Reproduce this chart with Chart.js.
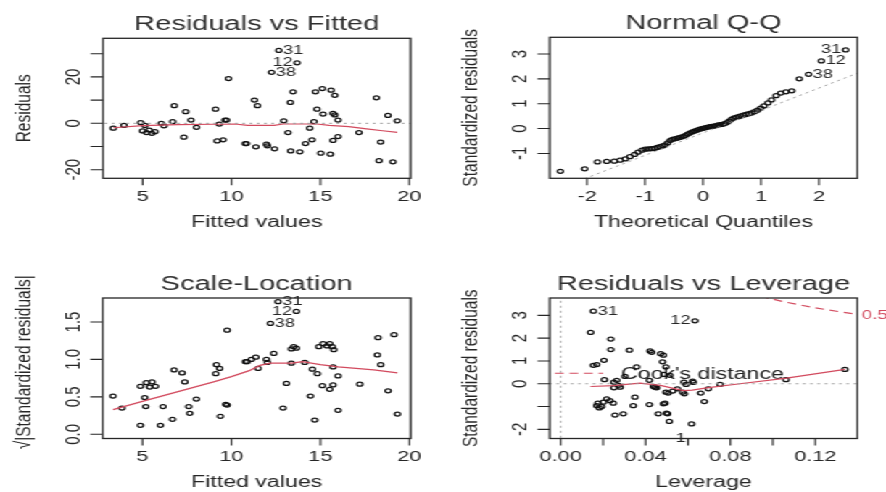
<!DOCTYPE html>
<html>
<head>
<meta charset="utf-8">
<title>lm diagnostics</title>
<script src="https://cdn.jsdelivr.net/npm/chart.js@4.4.1/dist/chart.umd.min.js"></script>
<style>
  html, body { margin: 0; padding: 0; background: #fff; overflow: hidden; }
  /* the four panels are laid out on a 611px-wide stage and widened to 886px */
  #stage { position: absolute; left: 0; top: 0; width: 611px; height: 492px;
           transform: scaleX(1.45008); transform-origin: 0 0; }
  #stage canvas { position: absolute; left: 0; top: 0; width: 611px; height: 492px; }
</style>
</head>
<body>
<div id="stage">
  <canvas id="p1" width="611" height="492"></canvas>
  <canvas id="p2" width="611" height="492"></canvas>
  <canvas id="p3" width="611" height="492"></canvas>
  <canvas id="p4" width="611" height="492"></canvas>
</div>
<script>
// ---- Residuals vs Fitted ----
const fitted = [3.35,3.95,4.89,5.00,5.13,5.22,5.37,5.52,5.69,6.05,6.20,6.69,6.78,7.32,7.42,7.72,8.03,9.10,9.19,9.31,
  9.53,9.63,9.72,9.83,10.77,10.84,11.29,11.37,11.46,11.97,12.02,12.25,12.42,12.66,12.94,13.18,13.31,13.33,13.46,13.69,
  13.84,14.16,14.40,14.53,14.64,14.72,14.81,15.02,15.11,15.15,15.56,15.60,15.71,15.81,15.81,15.71,15.99,15.99,17.17,18.15,
  18.30,18.39,18.80,19.08,19.33];
const residuals = [-2.1,-0.9,0.3,-3.3,-0.9,-4.0,-2.9,-4.3,-3.6,0.0,-1.1,0.7,7.6,-6.0,5.0,1.4,-1.7,6.1,-7.6,-0.3,
  -7.1,1.4,1.4,19.3,-8.7,-8.7,10.0,-10.1,7.6,-9.0,-9.7,22.0,-11.0,31.4,1.1,-4.0,9.0,-11.9,13.6,26.1,
  -12.3,-8.7,-2.1,-7.1,0.7,13.6,6.1,-12.9,15.0,4.0,-13.3,14.3,4.3,3.6,12.1,-7.4,1.4,-5.7,-4.0,11.0,
  -16.1,-8.1,3.4,-16.6,1.1];
const smoothFitX = [3.35,5,7,9,10.2,10.9,12.4,12.9,14.8,15.5,16.6,17.6,18.5,19.33];
const smoothFitY = [-1.9,-1.0,-0.6,-0.4,-0.3,-0.9,-0.9,-0.3,-0.3,-0.9,-1.4,-2.4,-3.2,-3.9];

// ---- Normal Q-Q ----
const theoQ = [-2.46,-2.04,-1.82,-1.66,-1.53,-1.43,-1.34,-1.26,-1.18,-1.12,-1.05,-0.995,-0.94,-0.887,-0.837,-0.788,-0.742,-0.697,
  -0.653,-0.61,-0.569,-0.528,-0.489,-0.45,-0.412,-0.374,-0.337,-0.30,-0.264,-0.228,-0.193,-0.157,-0.122,-0.087,-0.052,-0.017,
  0.017,0.052,0.087,0.122,0.157,0.193,0.228,0.264,0.30,0.337,0.374,0.412,0.45,0.489,0.528,0.569,0.61,0.653,
  0.697,0.742,0.788,0.837,0.887,0.94,0.995,1.05,1.12,1.18,1.26,1.34,1.43,1.53,1.66,1.82,2.04,2.46];
const stdResSorted = [-1.72,-1.62,-1.34,-1.32,-1.31,-1.27,-1.22,-1.13,-1.04,-0.95,-0.87,-0.83,-0.82,-0.81,-0.80,-0.76,-0.73,-0.70,
  -0.66,-0.58,-0.48,-0.43,-0.41,-0.39,-0.36,-0.34,-0.31,-0.27,-0.22,-0.18,-0.14,-0.11,-0.08,-0.05,-0.02,0.00,
  0.02,0.04,0.06,0.08,0.09,0.10,0.12,0.15,0.16,0.17,0.20,0.24,0.30,0.37,0.42,0.45,0.48,0.51,
  0.54,0.57,0.60,0.63,0.68,0.74,0.82,0.91,1.03,1.15,1.32,1.43,1.48,1.52,2.00,2.18,2.72,3.16];
const qqLineX = [-2.7, 2.7];
const qqLineY = [-2.61, 2.26];

// ---- Scale-Location ----
const slFitted = [3.35,3.85,4.89,5.13,5.19,4.89,5.22,5.54,5.41,5.73,6.16,6.01,6.69,6.78,7.23,7.38,7.60,7.66,8.03,9.16,
  9.34,9.12,9.68,9.76,9.38,9.76,10.79,10.88,11.12,11.37,11.50,11.97,12.02,12.38,12.19,12.62,13.65,12.90,13.09,13.37,
  13.37,13.50,13.65,14.12,14.44,14.55,14.68,14.83,14.91,15.15,15.11,15.37,15.52,15.67,15.75,15.71,15.52,15.71,15.99,15.99,
  17.21,18.24,18.20,18.39,18.80,19.14,19.33];
const slRoot = [0.51,0.35,0.12,0.49,0.37,0.64,0.69,0.70,0.63,0.64,0.37,0.12,0.20,0.86,0.82,0.70,0.37,0.28,0.47,0.93,
  0.88,0.81,0.40,0.39,0.24,1.39,0.97,0.97,1.00,1.03,0.88,1.00,0.96,1.08,1.48,1.77,1.64,0.35,0.68,0.95,
  1.14,1.17,1.15,0.96,0.51,0.87,0.19,0.81,1.17,1.21,0.65,1.18,1.21,1.17,1.13,0.90,0.60,0.66,0.78,0.32,
  0.67,1.29,1.06,0.93,0.58,1.33,0.27];
const smoothSlX = [3.35,5,7,9,10,11,11.6,12.2,13.4,14,15,16,18,19.33];
const smoothSlY = [0.33,0.44,0.57,0.70,0.77,0.85,0.92,0.95,0.95,0.97,0.93,0.90,0.86,0.82];

// ---- Residuals vs Leverage ----
const leverage = [0.0141,0.0154,0.0154,0.0170,0.0204,0.0206,0.0236,0.0236,0.0251,0.0264,0.0272,0.0251,0.0280,0.0256,0.0295,
  0.0324,0.0350,0.0358,0.0342,0.0170,0.0182,0.0193,0.0175,0.0201,0.0217,0.0232,0.0248,0.0418,0.0460,0.0421,
  0.0429,0.0418,0.0437,0.0444,0.0452,0.0471,0.0484,0.0480,0.0496,0.0487,0.0496,0.0507,0.0484,0.0492,0.0499,
  0.0504,0.0512,0.0528,0.0550,0.0575,0.0583,0.0581,0.0591,0.0622,0.0625,0.0633,0.0617,0.0660,0.0677,0.0696,
  0.0751,0.1062,0.1340,0.0303,0.0515];
const levStdRes = [2.25,3.18,0.81,0.84,1.03,0.18,1.96,1.50,0.07,0.15,-0.07,-0.18,-0.15,-1.37,-1.32,
  1.47,-0.59,0.74,-0.96,-0.96,-1.06,-1.00,-0.85,-0.81,-0.66,-0.74,-0.85,-0.91,-1.32,1.44,
  1.38,0.15,-0.12,-0.15,-0.18,1.32,1.25,0.96,0.74,0.41,-0.37,-0.41,-0.88,-0.85,-1.29,
  -1.32,-1.65,-0.32,-0.22,-0.37,-0.44,0.07,-0.03,0.12,0.06,2.76,-1.76,-0.41,-0.78,-0.22,
  -0.03,0.18,0.63,0.32,0.37];
const smoothLevX = [0.0141,0.025,0.031,0.0374,0.047,0.0578,0.062,0.0688,0.0845,0.1065,0.134];
const smoothLevY = [-0.12,-0.08,-0.03,0.03,-0.07,-0.30,-0.28,-0.18,0.0,0.25,0.63];
const cookX = [0.094,0.105,0.118,0.130,0.142];
const cookY = [3.84,3.60,3.36,3.18,3.01];

// ---- tick positions and labels ----
const fitTicks = [5,10,15,20];
const fitTickLabels = ['5','10','15','20'];
const residTicks = [-20,-10,0,10,20,30];
const residTickLabels = ['-20','','0','','20',''];
const qqXTicks = [-2,-1,0,1,2];
const qqXTickLabels = ['-2','-1','0','1','2'];
const qqYTicks = [-1,0,1,2,3];
const qqYTickLabels = ['-1','0','1','2','3'];
const slYTicks = [0,0.5,1,1.5];
const slYTickLabels = ['0.0','0.5','1.0','1.5'];
const levXTicks = [0,0.02,0.04,0.06,0.08,0.10,0.12];
const levXTickLabels = ['0.00','','0.04','','0.08','','0.12'];
const levYTicks = [-2,-1,0,1,2,3];
const levYTickLabels = ['-2','','0','1','2','3'];

const FONT = '"Liberation Sans", Arial, Helvetica, sans-serif';
const INK = '#262626';
const RED = '#d24a5e';
const GREY = '#a0a0a0';
const STAGE_W = 611, STAGE_H = 492;

const xy = (xs, ys) => xs.map((v, i) => ({x: v, y: ys[i]}));

function textAt(ctx, s, px, py, align, size, color) {
  ctx.font = `${size}px ${FONT}`;
  ctx.fillStyle = color || INK;
  ctx.textAlign = align || 'center';
  ctx.textBaseline = 'middle';
  ctx.fillText(s, px, py);
}

// axes, box, captions and point labels in the style of base graphics
const rplot = {
  id: 'rplot',
  beforeDatasetsDraw(chart, _args, o) {
    const {ctx, scales: {x, y}} = chart;
    if (!o.legend) return;
    const L = o.legend;
    ctx.save();
    ctx.strokeStyle = RED; ctx.lineWidth = 1.2; ctx.setLineDash([6, 4]);
    ctx.beginPath();
    ctx.moveTo(x.getPixelForValue(L.x0), y.getPixelForValue(L.y));
    ctx.lineTo(x.getPixelForValue(L.x1), y.getPixelForValue(L.y));
    ctx.stroke();
    ctx.setLineDash([]);
    textAt(ctx, L.text, x.getPixelForValue(L.tx), y.getPixelForValue(L.ty), 'left', 16, '#222');
    ctx.restore();
  },
  afterDraw(chart, _args, o) {
    const {ctx, chartArea: a, scales: {x, y}} = chart;
    ctx.save();
    ctx.strokeStyle = INK;
    ctx.lineWidth = 1.3;
    ctx.strokeRect(a.left, a.top, a.right - a.left, a.bottom - a.top);

    ctx.lineWidth = 1.1;
    ctx.beginPath();
    o.xTicks.forEach(v => { const p = x.getPixelForValue(v); ctx.moveTo(p, a.bottom); ctx.lineTo(p, a.bottom + 7); });
    o.yTicks.forEach(v => { const p = y.getPixelForValue(v); ctx.moveTo(a.left, p); ctx.lineTo(a.left - 8.5, p); });
    ctx.stroke();

    o.xTicks.forEach((v, i) => {
      if (o.xLabels[i]) textAt(ctx, o.xLabels[i], x.getPixelForValue(v), a.bottom + 18.5, 'center', 15);
    });
    o.yTicks.forEach((v, i) => {
      if (!o.yLabels[i]) return;
      ctx.save();
      ctx.translate(a.left - 20, y.getPixelForValue(v));
      ctx.rotate(-Math.PI / 2);
      textAt(ctx, o.yLabels[i], 0, 0, 'center', 15);
      ctx.restore();
    });

    const cx = (a.left + a.right) / 2, cy = (a.top + a.bottom) / 2;
    textAt(ctx, o.title, cx, a.top - 13.5, 'center', 20, '#303030');
    textAt(ctx, o.xTitle, cx, a.bottom + 44, 'center', 16);
    ctx.save();
    ctx.translate(a.left - 54.5, cy + (o.yTitleShift || 0));
    ctx.rotate(-Math.PI / 2);
    textAt(ctx, o.yTitle, 0, 0, 'center', 15.5);
    ctx.restore();

    (o.marks || []).forEach(m => {
      const px = x.getPixelForValue(m.x), py = y.getPixelForValue(m.y);
      if (m.side === 'r') textAt(ctx, m.text, px + 3, py, 'left', 12.5);
      else if (m.side === 'l') textAt(ctx, m.text, px - 3, py, 'right', 12.5);
      else textAt(ctx, m.text, px, py, m.align || 'center', m.size || 12.5, m.color);
    });
    ctx.restore();
  }
};

const pointsSet = data => ({
  data, showLine: false, pointStyle: 'circle', pointRadius: 2.0, pointBorderWidth: 1.25,
  pointBorderColor: '#111', pointBackgroundColor: 'rgba(0,0,0,0)'
});
const lineSet = (data, color, dash, width) => ({
  data, showLine: true, pointRadius: 0, borderColor: color, borderWidth: width || 1.2,
  borderDash: dash || [], tension: 0, fill: false
});

function panel(id, box, xr, yr, datasets, deco) {
  new Chart(document.getElementById(id), {
    type: 'scatter',
    data: {datasets},
    options: {
      responsive: false, animation: false, events: [],
      layout: {padding: {left: box[0], top: box[1], right: STAGE_W - box[2], bottom: STAGE_H - box[3]}},
      scales: {
        x: {type: 'linear', min: xr[0], max: xr[1], display: false},
        y: {type: 'linear', min: yr[0], max: yr[1], display: false}
      },
      plugins: {legend: {display: false}, tooltip: {enabled: false}, rplot: deco}
    },
    plugins: [rplot]
  });
}

// stage units: x is divided by the 1.45 widening, y is unchanged
panel('p1', [71.03, 38.3, 283.1, 178.3], [2.77, 20.07], [-23.7, 36.65], [
  lineSet([{x: 0, y: 0}, {x: 25, y: 0}], GREY, [2, 3], 1),
  lineSet(xy(smoothFitX, smoothFitY), RED),
  pointsSet(xy(fitted, residuals))
], {
  title: 'Residuals vs Fitted', xTitle: 'Fitted values', yTitle: 'Residuals',
  xTicks: fitTicks, xLabels: fitTickLabels, yTicks: residTicks, yLabels: residTickLabels,
  marks: [{x: 12.66, y: 31.4, text: '31', side: 'r'}, {x: 13.69, y: 26.1, text: '12', side: 'l'},
          {x: 12.25, y: 22.0, text: '38', side: 'r'}]
});

panel('p2', [379.1, 37.3, 591.2, 178.3], [-2.643, 2.66], [-2.0, 3.67], [
  lineSet(xy(qqLineX, qqLineY), GREY, [2, 3], 1),
  pointsSet(xy(theoQ, stdResSorted))
], {
  title: 'Normal Q-Q', xTitle: 'Theoretical Quantiles', yTitle: 'Standardized residuals',
  xTicks: qqXTicks, xLabels: qqXTickLabels, yTicks: qqYTicks, yLabels: qqYTickLabels,
  marks: [{x: 2.46, y: 3.16, text: '31', side: 'l'}, {x: 2.04, y: 2.72, text: '12', side: 'r'},
          {x: 1.82, y: 2.18, text: '38', side: 'r'}]
});

panel('p3', [70.83, 298, 283.2, 438.5], [2.77, 20.07], [-0.056, 1.82], [
  lineSet(xy(smoothSlX, smoothSlY), RED),
  pointsSet(xy(slFitted, slRoot))
], {
  title: 'Scale-Location', xTitle: 'Fitted values', yTitle: '\u221A|Standardized residuals|',
  yTitleShift: -6,
  xTicks: fitTicks, xLabels: fitTickLabels, yTicks: slYTicks, yLabels: slYTickLabels,
  marks: [{x: 12.62, y: 1.77, text: '31', side: 'r'}, {x: 13.65, y: 1.64, text: '12', side: 'l'},
          {x: 12.19, y: 1.48, text: '38', side: 'r'}]
});

panel('p4', [379.1, 298, 591.2, 438.5], [-0.00517, 0.1398], [-2.40, 3.76], [
  lineSet([{x: 0, y: -5}, {x: 0, y: 5}], GREY, [2, 3], 1),
  lineSet([{x: -1, y: 0}, {x: 1, y: 0}], GREY, [2, 3], 1),
  lineSet(xy(cookX, cookY), RED, [6, 4]),
  lineSet(xy(smoothLevX, smoothLevY), RED),
  pointsSet(xy(leverage, levStdRes))
], {
  title: 'Residuals vs Leverage', xTitle: 'Leverage', yTitle: 'Standardized residuals',
  xTicks: levXTicks, xLabels: levXTickLabels, yTicks: levYTicks, yLabels: levYTickLabels,
  legend: {x0: -0.0027, x1: 0.020, y: 0.46, tx: 0.0284, ty: 0.41, text: "Cook's distance"},
  marks: [{x: 0.0154, y: 3.18, text: '31', side: 'r'}, {x: 0.0633, y: 2.76, text: '12', side: 'l'},
          {x: 0.0566, y: -2.41, text: '1'},
          {x: 0.1419, y: 3.0, text: '0.5', align: 'left', size: 13, color: RED}]
});
</script>
</body>
</html>
